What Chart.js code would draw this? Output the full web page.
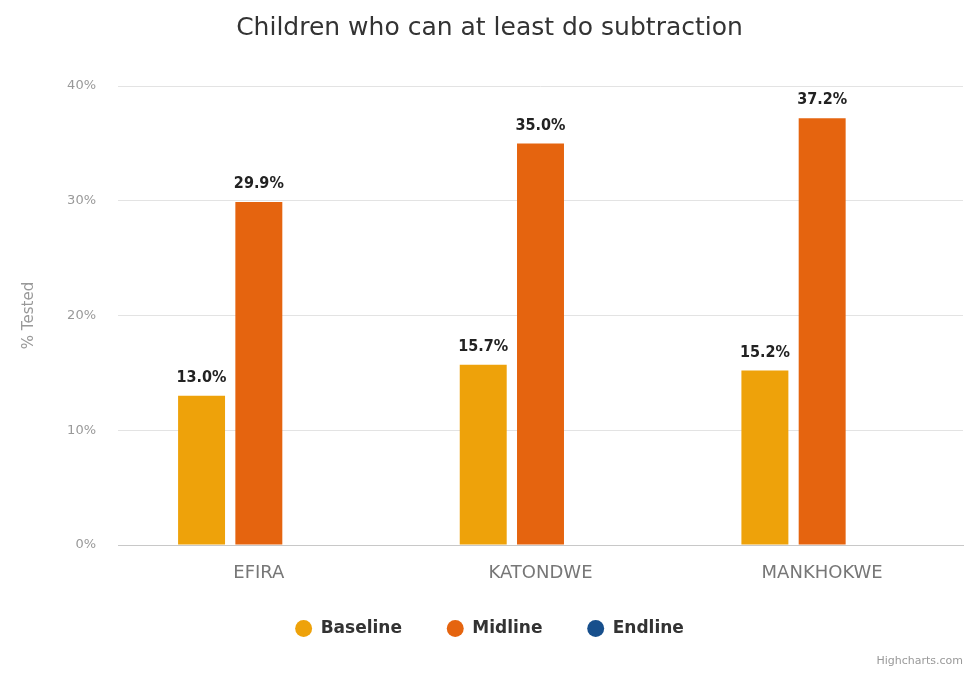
<!DOCTYPE html>
<html>
<head>
<meta charset="utf-8">
<script src="https://cdn.jsdelivr.net/npm/chart.js@4"></script>
<style>
  html, body { margin: 0; padding: 0; background: #fff; }
  #wrap { width: 965px; height: 675px; position: relative; }
</style>
</head>
<body>
<div id="wrap"><canvas id="subtractionChart"></canvas></div>
<script>
const schools = ["EFIRA", "KATONDWE", "MANKHOKWE"];
const baseline = [13.0, 15.7, 15.2];
const midline = [29.9, 35.0, 37.2];
const endline = [null, null, null];
const yTicks = [0, 10, 20, 30, 40];

const FONT = "'DejaVu Sans', Verdana, sans-serif";

// value labels above each bar
const barLabels = {
  id: "barLabels",
  afterDatasetsDraw(chart) {
    const { ctx } = chart;
    ctx.save();
    ctx.font = "bold 16px 'DejaVu Sans Condensed', " + FONT;
    ctx.fillStyle = "#222";
    ctx.textAlign = "center";
    ctx.textBaseline = "bottom";
    chart.data.datasets.forEach((ds, i) => {
      const meta = chart.getDatasetMeta(i);
      meta.data.forEach((bar, j) => {
        const v = ds.data[j];
        if (v == null) return;
        ctx.fillText(v.toFixed(1) + "%", bar.x, bar.y - 10);
      });
    });
    ctx.restore();
  }
};

// little credit line in the corner
const credits = {
  id: "credits",
  afterDraw(chart) {
    const { ctx, width, height } = chart;
    ctx.save();
    ctx.font = "11px " + FONT;
    ctx.fillStyle = "#999";
    ctx.textAlign = "right";
    ctx.textBaseline = "middle";
    ctx.fillText("Highcharts.com", width - 2, height - 14);
    ctx.restore();
  }
};

document.addEventListener("DOMContentLoaded", () => {
  const ctx = document.getElementById("subtractionChart").getContext("2d");
  new Chart(ctx, {
    type: "bar",
    data: {
      labels: schools,
      datasets: [
        { label: "Baseline", data: baseline, backgroundColor: "#eea20a" },
        { label: "Midline", data: midline, backgroundColor: "#e5640f" },
        { label: "Endline", data: endline, backgroundColor: "#174f8c" }
      ]
    },
    options: {
      responsive: true,
      maintainAspectRatio: false,
      animation: false,
      datasets: {
        bar: { categoryPercentage: 0.61, barPercentage: 0.82 }
      },
      layout: { padding: { left: 16, right: 2, top: 0, bottom: 28 } },
      scales: {
        x: {
          afterFit: (axis) => { axis.height = 48; },
          grid: { display: false, drawTicks: false },
          border: { display: true, color: "#c8c8c8", width: 1 },
          ticks: {
            color: "#777",
            font: { family: FONT, size: 18 },
            padding: 18
          }
        },
        y: {
          min: 0,
          max: 40,
          afterBuildTicks: (axis) => { axis.ticks = yTicks.map(v => ({ value: v })); },
          afterFit: (axis) => { axis.width = 102; },
          grid: { color: "#e3e3e3", drawTicks: false },
          border: { display: false },
          ticks: {
            color: "#999",
            font: { family: FONT, size: 13 },
            padding: 22,
            callback: (v) => v + "%"
          },
          title: {
            display: true,
            text: "% Tested",
            color: "#999",
            font: { family: FONT, size: 15 },
            padding: { bottom: 4 }
          }
        }
      },
      plugins: {
        title: {
          display: true,
          text: "Children who can at least do subtraction",
          color: "#333",
          font: { family: FONT, size: 25, weight: "normal" },
          padding: { top: 13, bottom: 43 }
        },
        legend: {
          position: "bottom",
          labels: {
            usePointStyle: true,
            pointStyle: "circle",
            boxHeight: 12,
            padding: 27,
            color: "#333",
            font: { family: FONT, size: 17, weight: "bold" },
            // wider gap between items than the row padding allows
            generateLabels: (chart) => {
              const items = Chart.defaults.plugins.legend.labels.generateLabels(chart);
              items.forEach((it, i) => {
                if (i < items.length - 1) it.text += "   ";
              });
              return items;
            }
          }
        },
        tooltip: { enabled: false }
      }
    },
    plugins: [barLabels, credits]
  });
});
</script>
</body>
</html>
